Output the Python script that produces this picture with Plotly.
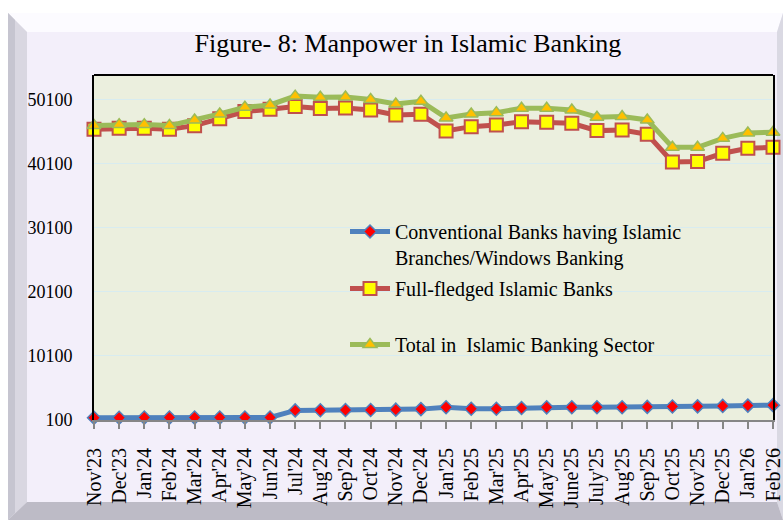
import plotly.graph_objects as go

months = ["Nov'23", "Dec'23", "Jan'24", "Feb'24", "Mar'24", "Apr'24", "May'24", "Jun'24",
          "Jul'24", "Aug'24", "Sep'24", "Oct'24", "Nov'24", "Dec'24", "Jan'25", "Feb'25",
          "Mar'25", "Apr'25", "May'25", "June'25", "July'25", "Aug'25", "Sep'25", "Oct'25",
          "Nov'25", "Dec'25", "Jan'26", "Feb'26"]

conventional = [450, 450, 480, 480, 480, 480, 480, 500, 1600, 1620, 1660, 1660, 1720, 1800,
                2100, 1850, 1850, 1980, 2080, 2100, 2100, 2100, 2150, 2200, 2230, 2300, 2350, 2420]

full_fledged = [45520, 45680, 45680, 45520, 46090, 47180, 48280, 48640, 49060, 48750, 48850,
                48540, 47760, 47860, 45260, 45930, 46190, 46710, 46600, 46450, 45310, 45410,
                44740, 40410, 40470, 41770, 42550, 42700]

total = [46100, 46250, 46250, 46100, 46980, 47920, 48960, 49320, 50700, 50520, 50570, 50160,
         49480, 49900, 47300, 47920, 48120, 48800, 48800, 48540, 47400, 47500, 46980, 42710,
         42710, 44100, 44950, 45050]

y_ticks = [100, 10100, 20100, 30100, 40100, 50100]

W, H = 783, 520
L, R, T, B = 94, 10, 75, 100
PW, PH = W - L - R, H - T - B


def px(x):
    return (x - L) / PW


def py(y):
    return (H - B - y) / PH


def poly(points):
    return "M" + " L".join(f"{px(x):.5f},{py(y):.5f}" for x, y in points) + " Z"


FONT = "Liberation Serif, Times New Roman, serif"

fig = go.Figure()

fig.add_trace(go.Scatter(
    x=months, y=conventional, mode="lines+markers",
    name="Conventional Banks having Islamic<br>Branches/Windows Banking",
    line=dict(color="#4F81BD", width=5),
    marker=dict(symbol="diamond", size=10, color="#FF0000", line=dict(color="#4F81BD", width=1.5)),
    cliponaxis=False, legend="legend",
))
fig.add_trace(go.Scatter(
    x=months, y=full_fledged, mode="lines+markers",
    name="Full-fledged Islamic Banks",
    line=dict(color="#C0504D", width=5),
    marker=dict(symbol="square", size=13, color="#FFFF00", line=dict(color="#C0504D", width=2)),
    cliponaxis=False, legend="legend2",
))
fig.add_trace(go.Scatter(
    x=months, y=total, mode="lines+markers",
    name="Total in  Islamic Banking Sector",
    line=dict(color="#9BBB59", width=5),
    marker=dict(symbol="triangle-up", size=12, color="#FFC000", line=dict(color="#9BBB59", width=1.5)),
    cliponaxis=False, legend="legend3",
))

shapes = [
    # outer panel
    dict(type="rect", xref="paper", yref="paper", x0=px(8), x1=px(783), y0=py(520), y1=py(13),
         fillcolor="#F3EFFA", line=dict(width=0), layer="below"),
    # top bevel
    dict(type="path", xref="paper", yref="paper",
         path=poly([(8, 13), (783, 13), (777, 32), (27, 32)]),
         fillcolor="#FCFBFF", line=dict(width=0), layer="below"),
    # left bevel
    dict(type="path", xref="paper", yref="paper",
         path=poly([(8, 13), (27, 32), (27, 502), (8, 520)]),
         fillcolor="#D9D7E1", line=dict(width=0), layer="below"),
    dict(type="path", xref="paper", yref="paper",
         path=poly([(8, 13), (15, 20), (15, 513), (8, 520)]),
         fillcolor="#C6C5D0", line=dict(width=0), layer="below"),
    # right bevel
    dict(type="path", xref="paper", yref="paper",
         path=poly([(783, 13), (777, 32), (777, 502), (783, 520)]),
         fillcolor="#DAD9E3", line=dict(width=0), layer="below"),
    # bottom bevel
    dict(type="path", xref="paper", yref="paper",
         path=poly([(8, 520), (27, 502), (777, 502), (783, 520)]),
         fillcolor="#BDBBC6", line=dict(width=0), layer="below"),
    # plot area background
    dict(type="rect", xref="paper", yref="paper", x0=0, x1=1, y0=0, y1=1,
         fillcolor="#EBEFDE", line=dict(width=0), layer="below"),
    # plot area frame: top edge
    dict(type="line", xref="paper", yref="paper", x0=0, x1=1, y0=1, y1=1,
         line=dict(color="#000000", width=2), layer="above"),
]

legend_common = dict(
    font=dict(family=FONT, size=20, color="#000000"),
    bgcolor="rgba(0,0,0,0)", borderwidth=0, valign="top",
    xanchor="left", yanchor="top", itemwidth=40, tracegroupgap=0,
)

fig.update_layout(
    width=W, height=H,
    margin=dict(l=L, r=R, t=T, b=B, pad=0, autoexpand=False),
    paper_bgcolor="#FFFFFF",
    plot_bgcolor="rgba(0,0,0,0)",
    font=dict(family=FONT, color="#000000"),
    title=dict(text="Figure- 8: Manpower in Islamic Banking", xref="container", yref="container",
               x=408 / W, xanchor="center", y=1 - 43 / H, yanchor="middle",
               font=dict(family=FONT, size=26, color="#000000")),
    shapes=shapes,
    showlegend=True,
    legend=dict(x=px(345), y=py(212), **legend_common),
    legend2=dict(x=px(345), y=py(269), **legend_common),
    legend3=dict(x=px(345), y=py(325), **legend_common),
    xaxis=dict(
        type="category", range=[0, len(months) - 1], automargin=False,
        showgrid=False, showline=True, linecolor="#868686", linewidth=2,
        ticks="outside", ticklen=7, tickcolor="#868686", tickwidth=2,
        tickangle=-90, ticklabelstandoff=11,
        tickfont=dict(family=FONT, size=20, color="#000000"),
        zeroline=False, fixedrange=True,
    ),
    yaxis=dict(
        range=[100, 54000], tickmode="array", tickvals=y_ticks, automargin=False,
        ticktext=[str(v) for v in y_ticks],
        showgrid=True, gridcolor="#D8ECF0", gridwidth=1,
        showline=True, linecolor="#000000", linewidth=2, mirror=True,
        ticks="", ticklabelstandoff=16,
        tickfont=dict(family=FONT, size=18, color="#000000"),
        zeroline=False, fixedrange=True,
    ),
)

fig.write_html("out.html")
